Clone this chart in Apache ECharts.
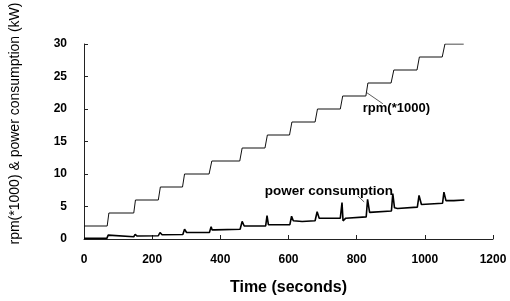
<!DOCTYPE html>
<html>
<head>
<meta charset="utf-8">
<script src="https://cdn.jsdelivr.net/npm/echarts@6/dist/echarts.min.js"></script>
<style>
	html, body { margin: 0; padding: 0; background: #fff; }
	#chart { width: 510px; height: 301px; }
</style>
</head>
<body>
<div id="chart"></div>
<script>
// tick labels
const xTicks = [0, 200, 400, 600, 800, 1000, 1200];
const yTicks = [0, 5, 10, 15, 20, 25, 30];

// rpm(*1000) step profile, time (s) and value
const rpmTime = [0, 68, 73, 146, 151, 218, 224, 289, 295, 367, 375, 457, 464, 531, 538, 603, 610, 678, 685, 752, 759, 827, 833, 901, 909, 977, 984, 1051, 1059, 1114];
const rpmValue = [2, 2, 4, 4, 6, 6, 8, 8, 10, 10, 12, 12, 14, 14, 16, 16, 18, 18, 20, 20, 22, 22, 24, 24, 26, 26, 28, 28, 30, 30];

// power consumption (kW), time (s) and value
const powerTime = [0, 67, 71, 76, 146, 150, 156, 218, 223, 229, 290, 295, 301, 368, 373, 376, 379, 384, 458, 464, 470, 533, 537, 541, 604, 609, 614, 640, 678, 684, 690, 752, 757, 760, 763, 768, 828, 832, 838, 902, 906, 911, 915, 920, 978, 983, 990, 1052, 1056, 1062, 1085, 1116];
const powerValue = [0.1, 0.1, 0.6, 0.3, 0.35, 0.7, 0.45, 0.5, 1.0, 0.65, 0.7, 1.5, 1.0, 1.0, 1.9, 1.4, 1.7, 1.4, 1.5, 2.7, 2.0, 2.0, 3.6, 2.2, 2.2, 3.5, 2.8, 2.7, 2.8, 4.2, 3.2, 3.2, 5.6, 2.8, 2.6, 3.2, 3.4, 6.1, 4.1, 4.3, 7.0, 4.8, 4.5, 4.7, 4.9, 6.7, 5.3, 5.5, 7.2, 5.9, 5.9, 6.0];

const pair = (t, v) => t.map((x, i) => [x, v[i]]);

const chart = echarts.init(document.getElementById('chart'));
const fontFamily = 'Liberation Sans, Arial, sans-serif';

chart.setOption({
	animation: false,
	backgroundColor: '#fff',
	grid: { left: 81, right: 17, top: 44, bottom: 61 },
	xAxis: {
		type: 'value',
		min: xTicks[0],
		max: xTicks[xTicks.length - 1],
		interval: 200,
		name: 'Time (seconds)',
		nameLocation: 'middle',
		nameGap: 41,
		nameTextStyle: { color: '#000', fontSize: 16, fontWeight: 'bold', fontFamily: fontFamily },
		axisLine: { lineStyle: { color: '#222', width: 1 } },
		axisTick: { inside: true, length: 4, lineStyle: { color: '#222' } },
		axisLabel: {
			color: '#000', fontSize: 12, fontWeight: 'bold', fontFamily: fontFamily, margin: 15,
			formatter: (v) => String(v)
		},
		splitLine: { show: false }
	},
	yAxis: {
		type: 'value',
		min: yTicks[0],
		max: yTicks[yTicks.length - 1],
		interval: 5,
		name: 'rpm(*1000) & power consumption (kW)',
		nameLocation: 'middle',
		nameGap: 62,
		nameTextStyle: { color: '#000', fontSize: 14, fontFamily: fontFamily, padding: [0, 0, 0, 36] },
		axisLine: { show: true, lineStyle: { color: '#222', width: 1 } },
		axisTick: { inside: true, length: 4, lineStyle: { color: '#222' } },
		axisLabel: { color: '#000', fontSize: 12, fontWeight: 'bold', fontFamily: fontFamily, margin: 17 },
		splitLine: { show: false }
	},
	series: [
		{
			name: 'rpm(*1000)',
			type: 'line',
			data: pair(rpmTime, rpmValue),
			symbol: 'none',
			lineStyle: { color: '#111', width: 1 }
		},
		{
			name: 'power consumption',
			type: 'line',
			data: pair(powerTime, powerValue),
			symbol: 'none',
			lineStyle: { color: '#000', width: 1.6 }
		}
	]
});

// annotations with leader lines, placed in data space
function annotate() {
	const p = (t, v) => chart.convertToPixel({ gridIndex: 0 }, [t, v]);
	const style = (text, size) => ({
		text: text,
		fill: '#000',
		font: 'bold ' + size + 'px Liberation Sans, Arial, sans-serif',
		textVerticalAlign: 'middle'
	});
	const a1 = p(830, 22.5), a2 = p(877, 20.8), t1 = p(818, 20.1);
	const b1 = p(804, 6.6), b2 = p(822, 5.7), t2 = p(530, 7.3);
	chart.setOption({
		graphic: [
			{ type: 'line', shape: { x1: a1[0], y1: a1[1], x2: a2[0], y2: a2[1] }, style: { stroke: '#333', lineWidth: 0.8 } },
			{ type: 'text', x: t1[0], y: t1[1], style: style('rpm(*1000)', 13) },
			{ type: 'line', shape: { x1: b1[0], y1: b1[1], x2: b2[0], y2: b2[1] }, style: { stroke: '#333', lineWidth: 0.8 } },
			{ type: 'text', x: t2[0], y: t2[1], style: style('power consumption', 13.5) }
		]
	});
}
annotate();
</script>
</body>
</html>
